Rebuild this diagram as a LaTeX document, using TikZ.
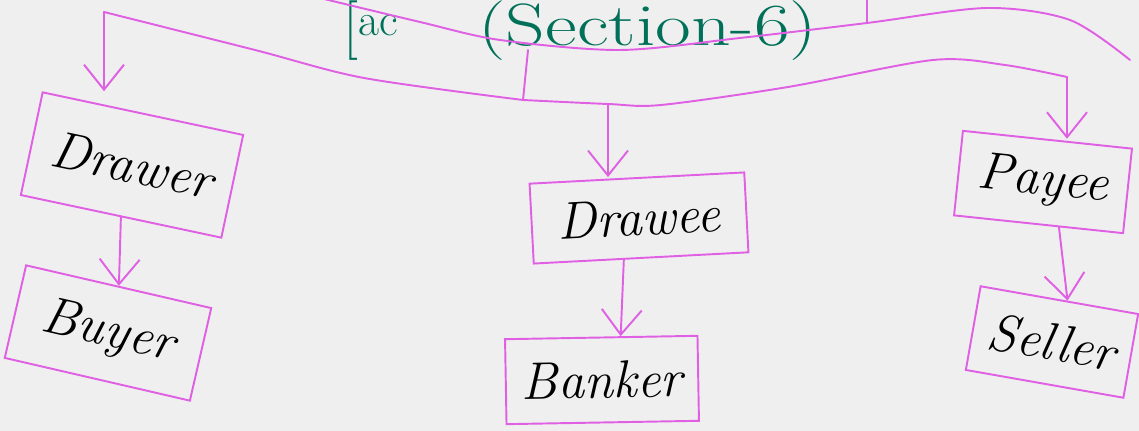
\documentclass[tikz,border=0pt]{standalone}
\usepackage{tikz}
\usetikzlibrary{arrows.meta,calc}
\definecolor{pen}{RGB}{224,96,228}
\definecolor{ink}{RGB}{0,112,88}
\definecolor{paper}{RGB}{239,239,239}

\begin{document}
\begin{tikzpicture}[x=0.02cm,y=-0.02cm,
    card/.style={draw=pen,line width=1.1pt,inner sep=0pt,font=\fontsize{30}{36}\selectfont\itshape},
    heading/.style={text=ink,inner sep=0pt,anchor=base west,font=\fontsize{34}{40}\selectfont},
    link/.style={draw=pen,line width=1.1pt,line cap=round,-{Straight Barb[length=5mm,width=8mm]}},
    trunk/.style={draw=pen,line width=1.1pt,line cap=round}]
  \fill[paper] (0,0) rectangle (1139,431);
  \useasboundingbox (0,0) rectangle (1139,431);

  \node[heading] (bracket) at (343,46) {[\raisebox{0.18em}{\fontsize{26}{26}\selectfont ac}};
  \node[heading] (title) at (478,46) {\scalebox{1.3}[1]{(Section-6)}};

  \node[card,rotate=-12,minimum width=4.1cm,minimum height=2.1cm] (drawer) at (132,165) {Drawer};
  \node[card,rotate=-13,minimum width=3.8cm,minimum height=1.9cm] (buyer) at (108,333) {Buyer};
  \node[card,rotate=3,minimum width=4.3cm,minimum height=1.6cm] (drawee) at (639,218) {Drawee};
  \node[card,rotate=1,minimum width=3.85cm,minimum height=1.7cm] (banker) at (602,380) {Banker};
  \node[card,rotate=-6,minimum width=3.4cm,minimum height=1.7cm] (payee) at (1043,182) {Payee};
  \node[card,rotate=-10,minimum width=3.2cm,minimum height=1.7cm] (seller) at (1052,342) {Seller};

  \coordinate (corner) at (104,12);
  \coordinate (stem) at (528,50);
  \coordinate (hub) at (523,100);
  \coordinate (fork) at (608,104);
  \coordinate (bend) at (1067,77);

  \draw[trunk] plot[smooth,tension=0.5] coordinates {(320,-2) (420,22) (500,40) (620,50) (740,38) (867,23) (987,8) (1070,20) (1130,60)};
  \draw[trunk] (867,23) -- (867,-2);
  \draw[trunk] plot[smooth] coordinates {(corner) (255,50) (364,78) (hub)};
  \draw[trunk] (stem) -- (hub);
  \draw[trunk] plot[smooth] coordinates {(hub) (fork) (661,105) (788,87) (933,60) (1005,65) (bend)};

  \draw[link] (corner) -- (corner |- drawer.north west);
  \draw[link] (fork) -- (fork |- drawee.north);
  \draw[link] (bend) -- (bend |- payee.north);
  \draw[link] (drawer.south) -- (buyer.north);
  \draw[link] ($(drawee.south west)!0.42!(drawee.south east)$) -- ($(banker.north west)!0.6!(banker.north east)$);
  \draw[link] ($(payee.south west)!0.62!(payee.south east)$) -- ($(seller.north west)!0.55!(seller.north east)$);
\end{tikzpicture}
\end{document}
